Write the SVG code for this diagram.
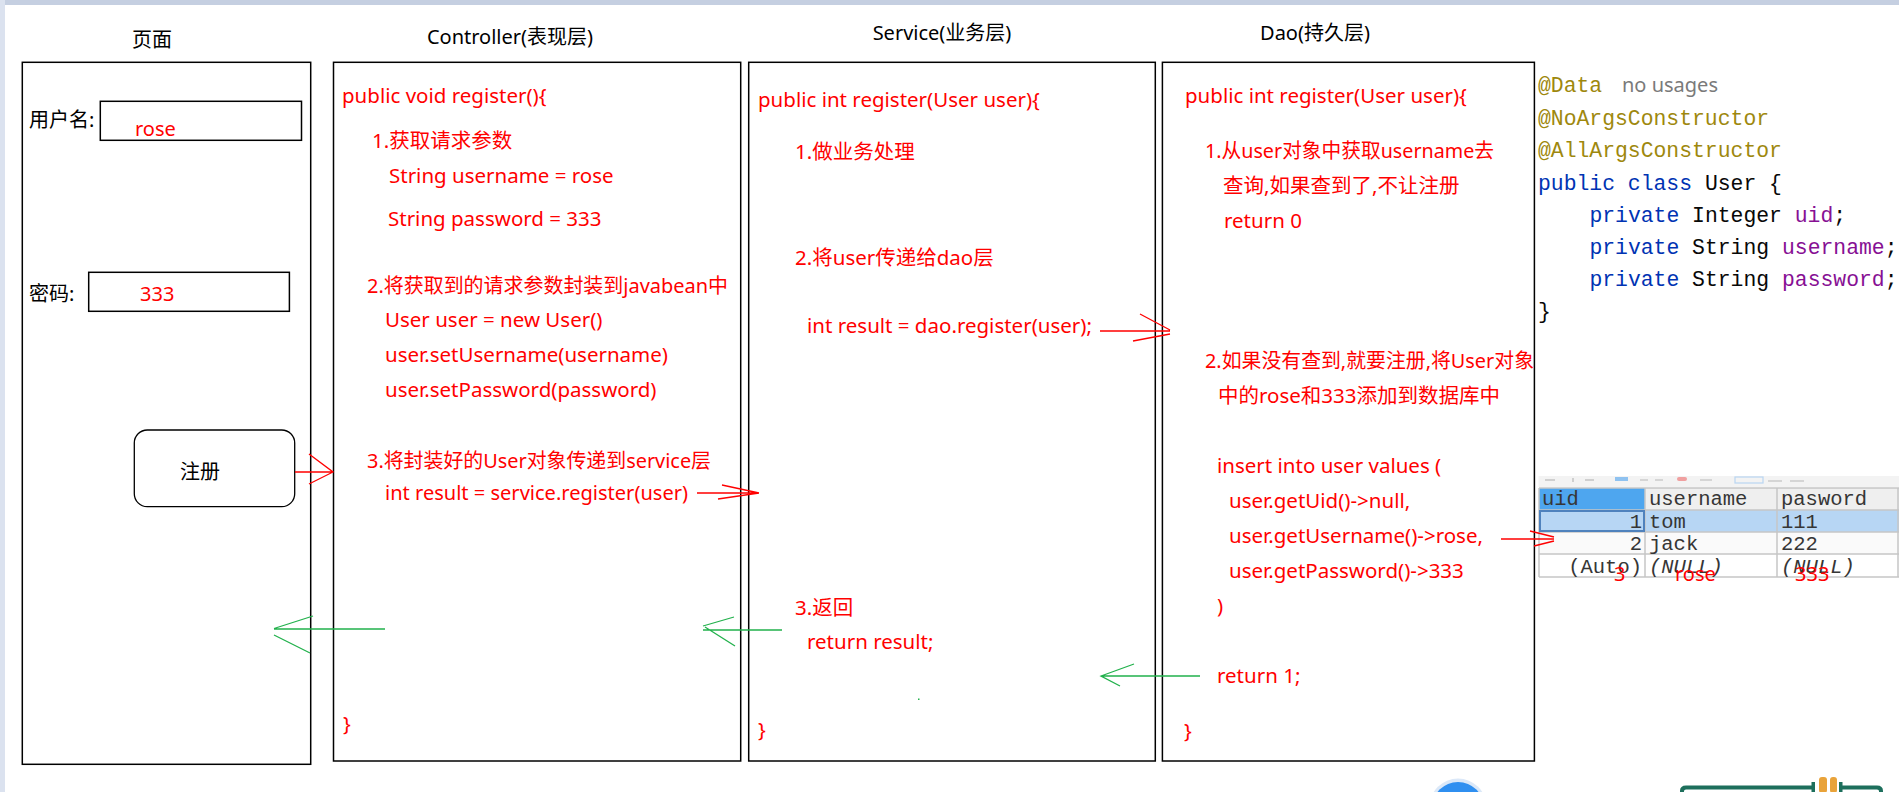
<svg xmlns="http://www.w3.org/2000/svg" width="1899" height="792" viewBox="0 0 1899 792">
<style>
.box{fill:none;stroke:#000;stroke-width:1.5}
.title{font-family:"Noto Sans","Noto Sans CJK SC",sans-serif;font-size:20px;fill:#000}
.lbl{font-family:"Noto Sans","Noto Sans CJK SC",sans-serif;font-size:20px;fill:#000}
.red{font-family:"Noto Sans","Noto Sans CJK SC",sans-serif;font-size:20.5px;fill:#ff0000}
.red20{font-family:"Noto Sans","Noto Sans CJK SC",sans-serif;font-size:20px;fill:#ff0000}
.rl{fill:none;stroke:#ff0000;stroke-width:1.3}
.gl{fill:none;stroke:#22b14c;stroke-width:1.3}
.code{font-family:"Liberation Mono","Courier New",monospace;font-size:21.4px;fill:#080808}
.ann{fill:#9e880d}
.kw{fill:#0033b3}
.fld{fill:#871094}
.tbl{font-family:"Liberation Mono","Courier New",monospace;font-size:20.5px;fill:#363636}
.grid{fill:none;stroke:#c6c6c6;stroke-width:1.5}
</style>
<rect x="0" y="0" width="1899" height="792" fill="#ffffff"/>
<rect x="0" y="0" width="1899" height="5" fill="#c5cfe1"/>
<rect x="0" y="0" width="5" height="792" fill="#dbe2ef"/>

<g id="node-page">
<text class="title" x="152" y="47" text-anchor="middle">页面</text>
<rect class="box" x="22.3" y="62.3" width="288.4" height="702"/>
<text class="lbl" x="29" y="127">用户名:</text>
<rect class="box" x="100.3" y="101.3" width="201.2" height="39"/>
<text class="red20" x="135" y="136">rose</text>
<text class="lbl" x="29" y="301">密码:</text>
<rect class="box" x="88.7" y="272.3" width="200.7" height="39"/>
<text class="red20" x="140" y="301">333</text>
<rect x="134.3" y="430" width="160.4" height="76.7" rx="13" ry="13" fill="#fff" stroke="#000" stroke-width="1.3"/>
<text class="lbl" x="200" y="479" text-anchor="middle">注册</text>
</g>

<g id="node-controller">
<text class="title" x="510" y="44" text-anchor="middle">Controller(表现层)</text>
<rect class="box" x="333.5" y="62.3" width="407.2" height="698.7"/>
<text class="red" x="342" y="103">public void register(){</text>
<text class="red" x="372" y="148">1.获取请求参数</text>
<text class="red" x="389" y="183">String username = rose</text>
<text class="red" x="388" y="226">String password = 333</text>
<text class="red" x="367" y="293" textLength="361" lengthAdjust="spacingAndGlyphs">2.将获取到的请求参数封装到javabean中</text>
<text class="red" x="385" y="327">User user = new User()</text>
<text class="red" x="385" y="362">user.setUsername(username)</text>
<text class="red" x="385" y="397">user.setPassword(password)</text>
<text class="red" x="367" y="468" textLength="344" lengthAdjust="spacingAndGlyphs">3.将封装好的User对象传递到service层</text>
<text class="red" x="385" y="500" textLength="303" lengthAdjust="spacingAndGlyphs">int result = service.register(user)</text>
<text class="red" x="343" y="731">}</text>
</g>

<g id="node-service">
<text class="title" x="942" y="40" text-anchor="middle">Service(业务层)</text>
<rect class="box" x="748.7" y="62.3" width="406.6" height="698.7"/>
<text class="red" x="758" y="107">public int register(User user){</text>
<text class="red" x="795" y="159">1.做业务处理</text>
<text class="red" x="795" y="265">2.将user传递给dao层</text>
<text class="red" x="807" y="333">int result = dao.register(user);</text>
<text class="red" x="795" y="615">3.返回</text>
<text class="red" x="807" y="649">return result;</text>
<text class="red" x="758" y="737">}</text>
<rect x="918" y="698.5" width="1.5" height="1.5" fill="#22b14c"/>
</g>

<g id="node-dao">
<text class="title" x="1315" y="40" text-anchor="middle">Dao(持久层)</text>
<rect class="box" x="1162.4" y="62.3" width="372" height="698.7"/>
<text class="red" x="1185" y="103">public int register(User user){</text>
<text class="red" x="1205" y="158" textLength="289" lengthAdjust="spacingAndGlyphs">1.从user对象中获取username去</text>
<text class="red" x="1223" y="193">查询,如果查到了,不让注册</text>
<text class="red" x="1224" y="228">return 0</text>
<text class="red" x="1205" y="368" textLength="329" lengthAdjust="spacingAndGlyphs">2.如果没有查到,就要注册,将User对象</text>
<text class="red" x="1218" y="403">中的rose和333添加到数据库中</text>
<text class="red" x="1217" y="473">insert into user values (</text>
<text class="red" x="1229" y="508">user.getUid()-&gt;null,</text>
<text class="red" x="1229" y="543">user.getUsername()-&gt;rose,</text>
<text class="red" x="1229" y="578">user.getPassword()-&gt;333</text>
<text class="red" x="1217" y="613">)</text>
<text class="red" x="1217" y="683">return 1;</text>
<text class="red" x="1184" y="738">}</text>
</g>

<g id="node-code">
<text class="code ann" x="1538" y="92">@Data</text>
<text x="1622" y="92" font-family="Noto Sans, sans-serif" font-size="20px" fill="#7a7a7a">no usages</text>
<text class="code ann" x="1538" y="125">@NoArgsConstructor</text>
<text class="code ann" x="1538" y="157">@AllArgsConstructor</text>
<text class="code" x="1538" y="190"><tspan class="kw">public class</tspan> User {</text>
<text class="code" x="1589.4" y="222"><tspan class="kw">private</tspan> Integer <tspan class="fld">uid</tspan>;</text>
<text class="code" x="1589.4" y="254"><tspan class="kw">private</tspan> String <tspan class="fld">username</tspan>;</text>
<text class="code" x="1589.4" y="286"><tspan class="kw">private</tspan> String <tspan class="fld">password</tspan>;</text>
<text class="code" x="1538" y="318">}</text>
</g>

<g id="node-table">
<rect x="1538.5" y="476" width="360.5" height="11" fill="#f3f3f3"/>
<rect x="1545" y="479" width="10" height="2" fill="#cfcfcf"/>
<rect x="1572" y="478" width="2" height="4" fill="#cfcfcf"/>
<rect x="1585" y="479" width="9" height="2" fill="#cfcfcf"/>
<rect x="1615" y="477" width="13" height="4" fill="#8fc2f0"/>
<rect x="1640" y="479" width="8" height="2" fill="#d5d5d5"/>
<rect x="1655" y="479" width="8" height="2" fill="#d5d5d5"/>
<rect x="1677" y="477" width="10" height="4" rx="2" fill="#f0a0a0"/>
<rect x="1700" y="479" width="12" height="2" fill="#d5d5d5"/>
<rect x="1735" y="477" width="28" height="6" fill="none" stroke="#b9d6f2" stroke-width="1.2"/>
<rect x="1768" y="480" width="14" height="2" fill="#d5d5d5"/>
<rect x="1790" y="480" width="14" height="2" fill="#d5d5d5"/>
<rect x="1539" y="488" width="106" height="22" fill="#4ea6ef"/>
<rect x="1645" y="488" width="132" height="22" fill="#efefef"/>
<rect x="1777" y="488" width="122" height="22" fill="#efefef"/>
<rect x="1539" y="510" width="360" height="22" fill="#b7d6f4"/>
<rect x="1539" y="532" width="360" height="22" fill="#fafafa"/>
<rect x="1539" y="554" width="360" height="23" fill="#ffffff"/>
<path class="grid" d="M1539,488 H1899 M1539,510 H1899 M1539,532 H1899 M1539,554 H1899 M1539,577 H1899 M1539,488 V577 M1645,488 V577 M1777,488 V577 M1898,488 V577"/>
<rect x="1540" y="511" width="104" height="20" fill="none" stroke="#4f82bd" stroke-width="2"/>
<text class="tbl" x="1542" y="505" fill="#d6ebff">uid</text>
<text class="tbl" x="1649" y="505">username</text>
<text class="tbl" x="1781" y="505">pasword</text>
<text class="tbl" x="1642" y="528" text-anchor="end">1</text>
<text class="tbl" x="1649" y="528">tom</text>
<text class="tbl" x="1781" y="528">111</text>
<text class="tbl" x="1642" y="550" text-anchor="end">2</text>
<text class="tbl" x="1649" y="550">jack</text>
<text class="tbl" x="1781" y="550">222</text>
<text class="tbl" x="1642" y="573" text-anchor="end">(Auto)</text>
<text class="tbl" x="1649" y="573" font-style="italic">(NULL)</text>
<text class="tbl" x="1781" y="573" font-style="italic">(NULL)</text>
<text class="red20" x="1614" y="581">3</text>
<text class="red20" x="1675" y="581">rose</text>
<text class="red20" x="1795" y="581">333</text>
</g>

<g id="connectors">
<path class="rl" d="M295,472 H333 M309,454 L333,472 L309,484"/>
<path class="rl" d="M697,493 H759 M722,485 L759,493 M718,499 L759,493"/>
<path class="rl" d="M1100,331 H1170 M1140,314 L1170,330 M1133,341 L1170,334"/>
<path class="rl" d="M1501,539 H1554 M1530,531 L1554,537 M1534,546 L1554,541"/>
<path class="gl" d="M385,629 H274 M313,616 L274,628.5 M274,635 L310,653"/>
<path class="gl" d="M782,630 H703 M734,617 L703,626 M705,627 L735,646"/>
<path class="gl" d="M1200,676 H1101 M1134,664 L1101,676 L1120,686"/>
</g>

<g id="icons">
<circle cx="1458" cy="807" r="28.5" fill="#dbe8f8"/>
<circle cx="1458" cy="808" r="26" fill="#2f8ff0"/>
<path d="M1682,792 V791 Q1682,787.5 1686,787.5 H1812" fill="none" stroke="#1d6f5c" stroke-width="4"/>
<rect x="1811.5" y="782" width="3.5" height="10" fill="#1d6f5c"/>
<rect x="1839" y="782" width="3.5" height="10" fill="#1d6f5c"/>
<path d="M1841,787.5 H1877 Q1881,787.5 1881,791 V792" fill="none" stroke="#1d6f5c" stroke-width="4"/>
<rect x="1819" y="777" width="8" height="16" rx="3" fill="#e9a33a"/>
<rect x="1830" y="777" width="7" height="16" rx="3" fill="#e9a33a"/>
</g>
</svg>
